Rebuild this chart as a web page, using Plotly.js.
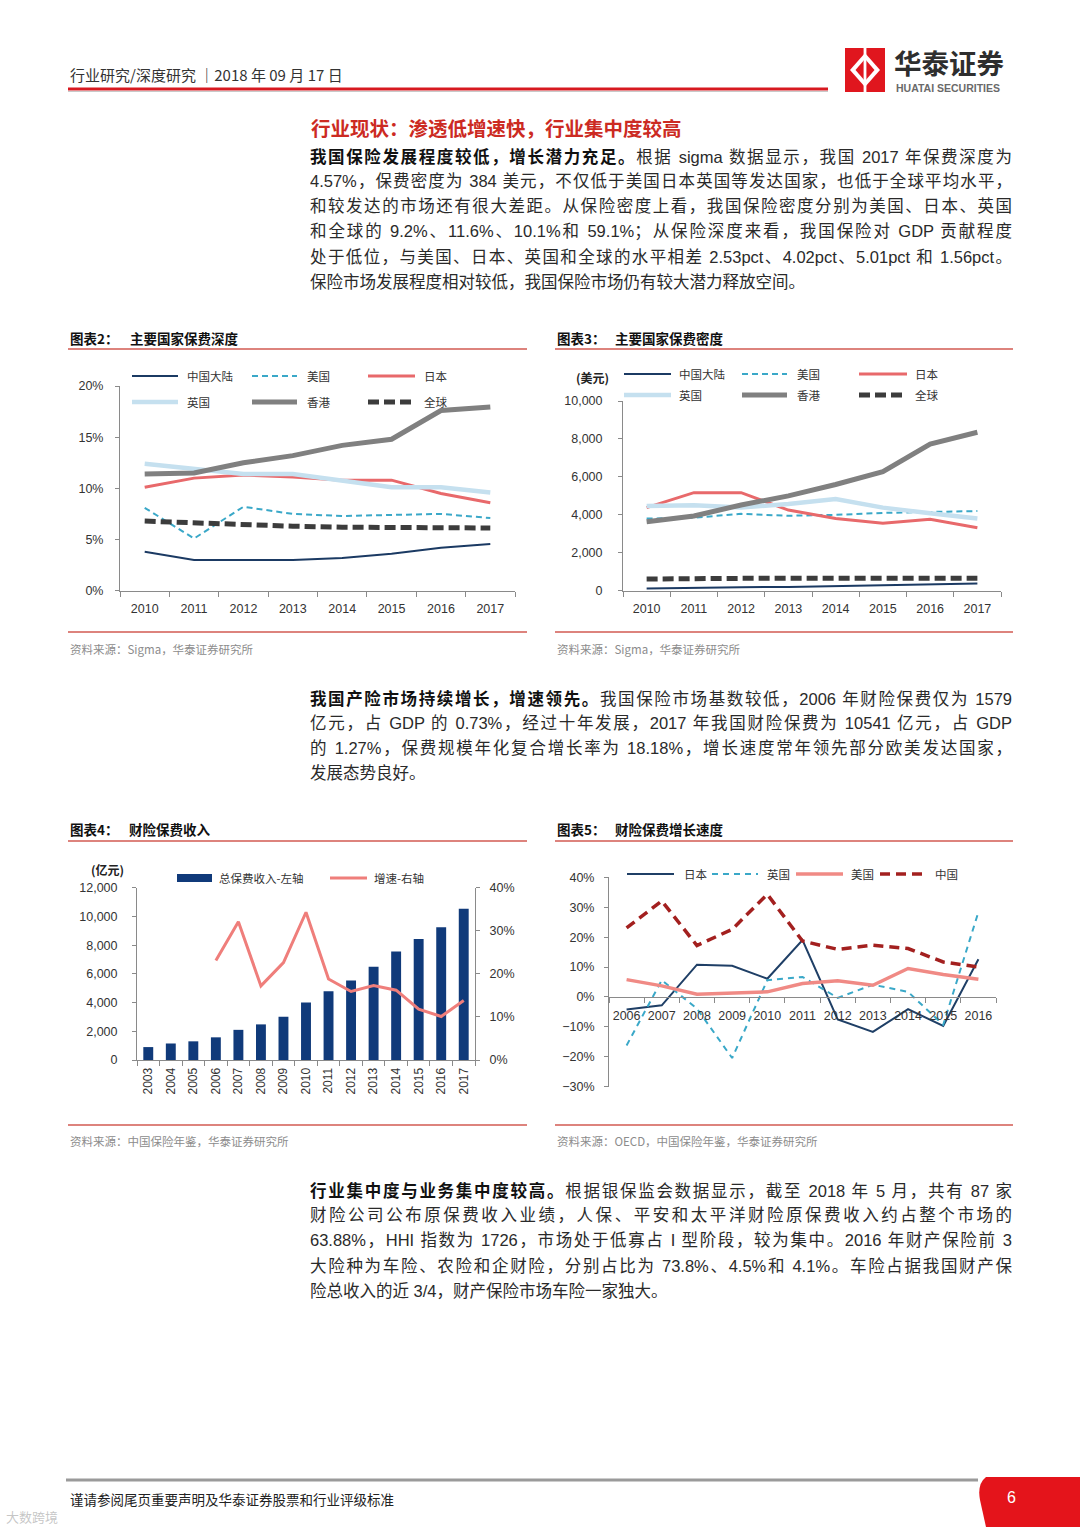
<!DOCTYPE html>
<html><head><meta charset="utf-8">
<script src="https://cdn.plot.ly/plotly-3.0.1.min.js"></script>
<style>
html,body{margin:0;padding:0;background:#fff;}
#page{position:relative;width:1080px;height:1527px;overflow:hidden;background:#fff;}
#plot{position:absolute;left:0;top:0;width:1080px;height:1527px;}
.ln{position:absolute;left:310px;width:702px;height:25px;line-height:25px;font-family:"Liberation Sans","Noto Sans CJK SC",sans-serif;font-size:16.5px;color:#2a2a2a;text-align:justify;text-align-last:justify;overflow:hidden;}
.ln.last{text-align-last:left;}
.ln b{font-family:"Noto Sans CJK SC",sans-serif;font-weight:700;color:#111;}
</style></head>
<body>
<div id="page"><div id="plot"></div></div>
<script>
// ---------- DATA ----------
const years10to17 = ['2010','2011','2012','2013','2014','2015','2016','2017'];
// 图表2 保费深度 (%)
const depthMainland = [3.8, 3.0, 3.0, 3.0, 3.2, 3.6, 4.2, 4.57];
const depthUS       = [8.1, 5.1, 8.2, 7.5, 7.3, 7.4, 7.5, 7.1];
const depthJapan    = [10.1, 11.0, 11.3, 11.1, 10.8, 10.8, 9.5, 8.6];
const depthUK       = [12.4, 11.9, 11.4, 11.4, 10.7, 10.1, 10.1, 9.6];
const depthHK       = [11.4, 11.5, 12.5, 13.2, 14.2, 14.8, 17.6, 17.95];
const depthWorld    = [6.8, 6.6, 6.5, 6.3, 6.2, 6.2, 6.25, 6.13];
// 图表3 保费密度 (美元)
const densMainland = [110, 160, 180, 200, 240, 280, 340, 384];
const densUS       = [3800, 3850, 4050, 3950, 4000, 4100, 4150, 4200];
const densJapan    = [4380, 5170, 5170, 4250, 3810, 3550, 3760, 3320];
const densUK       = [4460, 4500, 4380, 4570, 4830, 4380, 4080, 3810];
const densHK       = [3640, 3940, 4520, 5000, 5600, 6270, 7730, 8350];
const densWorld    = [615, 650, 650, 650, 650, 600, 615, 650];
// 图表4 财险保费收入 (亿元) 与增速 (%)
const years03to17 = ['2003','2004','2005','2006','2007','2008','2009','2010','2011','2012','2013','2014','2015','2016','2017'];
const premiumTotal = [900, 1150, 1300, 1579, 2100, 2480, 3020, 4010, 4790, 5540, 6490, 7550, 8430, 9250, 10541];
const premiumGrowth = [null, null, null, 23.1, 32.1, 17.2, 22.6, 34.3, 18.8, 15.9, 17.3, 16.2, 11.8, 10.1, 13.8];
// 图表5 财险保费增长速度 (%)
const years06to16 = ['2006','2007','2008','2009','2010','2011','2012','2013','2014','2015','2016'];
const growthJapan = [-4.2, -2.8, 10.8, 10.4, 6.1, 19.0, -7.5, -11.7, -4.1, -9.7, 12.6];
const growthUK    = [-16.2, 5.6, -3.9, -20.4, 5.6, 6.7, -0.3, 4.1, 1.7, -9.3, 28.4];
const growthUS    = [5.8, 3.7, 0.9, 1.3, 1.7, 4.5, 5.4, 3.9, 9.5, 7.5, 5.9];
const growthChina = [23.1, 32.1, 17.2, 22.6, 34.3, 18.7, 15.9, 17.3, 16.2, 11.7, 10.0];

// ---------- TEXT ----------
const para1 = [
 '<b>我国保险发展程度较低，增长潜力充足。</b>根据 sigma 数据显示，我国 2017 年保费深度为',
 '4.57%，保费密度为 384 美元，不仅低于美国日本英国等发达国家，也低于全球平均水平，',
 '和较发达的市场还有很大差距。从保险密度上看，我国保险密度分别为美国、日本、英国',
 '和全球的 9.2%、11.6%、10.1%和 59.1%；从保险深度来看，我国保险对 GDP 贡献程度',
 '处于低位，与美国、日本、英国和全球的水平相差 2.53pct、4.02pct、5.01pct 和 1.56pct。',
 '保险市场发展程度相对较低，我国保险市场仍有较大潜力释放空间。'];
const para1Y = [156, 181, 206, 231, 257, 282];
const para2 = [
 '<b>我国产险市场持续增长，增速领先。</b>我国保险市场基数较低，2006 年财险保费仅为 1579',
 '亿元，占 GDP 的 0.73%，经过十年发展，2017 年我国财险保费为 10541 亿元，占 GDP',
 '的 1.27%，保费规模年化复合增长率为 18.18%，增长速度常年领先部分欧美发达国家，',
 '发展态势良好。'];
const para2Y = [698, 723, 748, 773];
const para3 = [
 '<b>行业集中度与业务集中度较高。</b>根据银保监会数据显示，截至 2018 年 5 月，共有 87 家',
 '财险公司公布原保费收入业绩，人保、平安和太平洋财险原保费收入约占整个市场的',
 '63.88%，HHI 指数为 1726，市场处于低寡占 I 型阶段，较为集中。2016 年财产保险前 3',
 '大险种为车险、农险和企财险，分别占比为 73.8%、4.5%和 4.1%。车险占据我国财产保',
 '险总收入的近 3/4，财产保险市场车险一家独大。'];
const para3Y = [1190, 1215, 1240, 1266, 1291];

const page = document.getElementById('page');
function addPara(lines, ys){
  lines.forEach((t,i)=>{
    const d=document.createElement('div');
    d.className='ln'+(i===lines.length-1?' last':'');
    d.style.top=(ys[i]-12.5)+'px';
    d.innerHTML=t;
    page.appendChild(d);
  });
}
addPara(para1, para1Y); addPara(para2, para2Y); addPara(para3, para3Y);

// ---------- LAYOUT HELPERS ----------
const W=1080, H=1527;
const px = x => x/W;
const py = y => 1 - y/H;
const CJK = '"Noto Sans CJK SC", sans-serif';
const NUM = '"Liberation Sans", Arial, "Noto Sans CJK SC", sans-serif';
const AX = '#8a8a8a';

function ann(text, x, y, size, color, opts){
  opts = opts || {};
  return {text:text, x:px(x), y:py(y), xref:'paper', yref:'paper', showarrow:false,
    xanchor:opts.xa||'left', yanchor:opts.ya||'middle',
    font:{family:opts.family||CJK, size:size, color:color}};
}
function hline(x1,x2,y,color,width,dash){
  return {type:'line', xref:'paper', yref:'paper', x0:px(x1), x1:px(x2), y0:py(y), y1:py(y),
    line:{color:color, width:width, dash:dash||'solid'}};
}

// line styles
const sMain  = {color:'#1b3a63', width:2};
const sUS    = {color:'#3aa8c8', width:2, dash:'6px,4px'};
const sJP    = {color:'#e8696b', width:3};
const sUK    = {color:'#c5e0ef', width:4.5};
const sHK    = {color:'#808080', width:5};
const sWorld = {color:'#3c3c3c', width:5, dash:'11px,5px'};
const s5JP = {color:'#1f3f66', width:2};
const s5UK = {color:'#3aa8c8', width:2, dash:'6px,5px'};
const s5US = {color:'#f08a85', width:3.5};
const s5CN = {color:'#a3201f', width:3.5, dash:'10px,6px'};
const barColor = '#103a7a';
const sGrowth = {color:'#ef7e7b', width:3};

function line(x, y, xa, ya, style){
  return {type:'scatter', mode:'lines', x:x, y:y, xaxis:xa, yaxis:ya, line:style, hoverinfo:'skip', showlegend:false, connectgaps:false};
}

const traces = [
  line(years10to17, depthMainland, 'x', 'y', sMain),
  line(years10to17, depthUS, 'x', 'y', sUS),
  line(years10to17, depthJapan, 'x', 'y', sJP),
  line(years10to17, depthUK, 'x', 'y', sUK),
  line(years10to17, depthHK, 'x', 'y', sHK),
  line(years10to17, depthWorld, 'x', 'y', sWorld),

  line(years10to17, densMainland, 'x2', 'y2', sMain),
  line(years10to17, densUS, 'x2', 'y2', sUS),
  line(years10to17, densJapan, 'x2', 'y2', sJP),
  line(years10to17, densUK, 'x2', 'y2', sUK),
  line(years10to17, densHK, 'x2', 'y2', sHK),
  line(years10to17, densWorld, 'x2', 'y2', sWorld),

  {type:'bar', x:years03to17, y:premiumTotal, xaxis:'x3', yaxis:'y3', marker:{color:barColor}, hoverinfo:'skip', showlegend:false},
  line(years03to17, premiumGrowth, 'x3', 'y4', sGrowth),

  line(years06to16, growthJapan, 'x5', 'y5', s5JP),
  line(years06to16, growthUK, 'x5', 'y5', s5UK),
  line(years06to16, growthUS, 'x5', 'y5', s5US),
  line(years06to16, growthChina, 'x5', 'y5', s5CN)
];

const tickFont = {family:NUM, size:12.5, color:'#333'};
function catAxis(x1, x2, anchor, n, extra){
  return Object.assign({type:'category', domain:[px(x1), px(x2)], anchor:anchor, range:[-0.5, n-0.5],
    showline:true, linecolor:AX, linewidth:1, showgrid:false, zeroline:false,
    ticks:'outside', ticklen:5, tickcolor:AX, tickson:'boundaries', tickangle:0,
    tickfont:tickFont, ticklabelstandoff:6, fixedrange:true, automargin:false}, extra||{});
}
function valAxis(ytop, ybot, anchor, extra){
  return Object.assign({domain:[py(ybot), py(ytop)], anchor:anchor,
    showline:true, linecolor:AX, linewidth:1, showgrid:false, zeroline:false,
    ticks:'outside', ticklen:4, tickcolor:AX, tickfont:tickFont, fixedrange:true, automargin:false}, extra||{});
}

const layout = {
  width:W, height:H, margin:{l:0,r:0,t:0,b:0}, paper_bgcolor:'#fff', plot_bgcolor:'rgba(0,0,0,0)',
  showlegend:false, bargap:0.56,
  xaxis:  catAxis(120, 515, 'y', years10to17.length),
  yaxis:  valAxis(386, 590.7, 'x', {range:[0,20], dtick:5, ticksuffix:'%', ticklabelstandoff:9}),
  xaxis2: catAxis(623, 1001, 'y2', years10to17.length),
  yaxis2: valAxis(401, 590.7, 'x2', {range:[0,10000], dtick:2000, tickformat:',d', ticklabelstandoff:13}),
  xaxis3: catAxis(137, 475, 'y3', years03to17.length, {tickangle:-90, ticklabelstandoff:2, tickfont:{family:NUM,size:12,color:'#333'}}),
  yaxis3: valAxis(887.7, 1060, 'x3', {range:[0,12000], dtick:2000, tickformat:',d', ticklabelstandoff:12, tickfont:{family:NUM,size:12.5,color:'#333'}}),
  yaxis4: {overlaying:'y3', side:'right', anchor:'x3', range:[0,40], dtick:10, ticksuffix:'%',
    showline:true, linecolor:AX, linewidth:1, showgrid:false, zeroline:false, ticks:'outside', ticklen:4, tickcolor:AX,
    tickfont:{family:NUM,size:12.5,color:'#333'}, ticklabelstandoff:7, fixedrange:true, automargin:false},
  xaxis5: catAxis(609, 996, 'free', years06to16.length, {position:py(996.7), ticklabelstandoff:7, tickangle:0}),
  yaxis5: valAxis(877.3, 1086.7, 'x5', {range:[-30,40], dtick:10, ticksuffix:'%', ticklabelstandoff:7}),
  shapes:[], annotations:[]
};

const S = layout.shapes, A = layout.annotations;

// ---------- HEADER ----------
A.push(ann('行业研究/深度研究 ｜2018 年 09 月 17 日', 68, 75, 15, '#333'));
S.push(hline(68, 828, 89, '#d71920', 3));
S.push(hline(68, 828, 91.5, '#c9c9c9', 1));
// logo mark
S.push({type:'rect', xref:'paper', yref:'paper', x0:px(845), x1:px(885), y0:py(92), y1:py(48), fillcolor:'#e0161e', line:{width:0}});
S.push({type:'path', xref:'paper', yref:'paper', path:`M ${px(865)} ${py(53)} L ${px(880)} ${py(70)} L ${px(865)} ${py(87)} L ${px(850)} ${py(70)} Z`, fillcolor:'#ffffff', line:{width:0}});
S.push({type:'path', xref:'paper', yref:'paper', path:`M ${px(865)} ${py(59)} L ${px(874.5)} ${py(70)} L ${px(865)} ${py(81)} L ${px(855.5)} ${py(70)} Z`, fillcolor:'#e0161e', line:{width:0}});
S.push({type:'rect', xref:'paper', yref:'paper', x0:px(863.6), x1:px(866.4), y0:py(92), y1:py(48), fillcolor:'#ffffff', line:{width:0}});
A.push(ann('<b>华泰证券</b>', 892, 62, 27.5, '#2e2e2e'));
A.push(ann('<b>HUATAI SECURITIES</b>', 894, 88.5, 10.5, '#6a6a6a', {family:NUM}));

// section title
A.push(ann('<b>行业现状：渗透低增速快，行业集中度较高</b>', 309, 128, 19.5, '#cc2a22'));

// ---------- CHART FRAMES ----------
const frameRed = '#d25a52';
function frame(x1, x2, yTitle, yTop, yBot, ySrc, num, title, titleX, src){
  A.push(ann('<b>图表' + num + '：</b>', x1, yTitle, 13.5, '#111'));
  A.push(ann('<b>' + title + '</b>', titleX, yTitle, 13.5, '#111'));
  S.push(hline(x1, x2, yTop, frameRed, 1.6));
  S.push(hline(x1, x2, yBot, frameRed, 1.6));
  A.push(ann(src, x1, ySrc, 11.5, '#8c8c8c'));
}
frame(68, 527, 338, 349, 632, 649, '2', '主要国家保费深度', 128, '资料来源：Sigma，华泰证券研究所');
frame(555, 1013, 338, 349, 632, 649, '3', '主要国家保费密度', 613, '资料来源：Sigma，华泰证券研究所');
frame(68, 527, 829, 841, 1125, 1141, '4', '财险保费收入', 127, '资料来源：中国保险年鉴，华泰证券研究所');
frame(555, 1013, 829, 841, 1125, 1141, '5', '财险保费增长速度', 613, '资料来源：OECD，中国保险年鉴，华泰证券研究所');

// ---------- CUSTOM LEGENDS ----------
function legLine(x1, x2, y, style, label, tx){
  S.push(hline(x1, x2, y, style.color, style.width, style.dash));
  A.push(ann(label, tx, y, 11.5, '#333'));
}
// chart 2
legLine(132,178,376,sMain,'中国大陆',185);
legLine(252,297,376,sUS,'美国',305);
legLine(368,415,376,sJP,'日本',422);
legLine(132,178,402,sUK,'英国',185);
legLine(252,297,402,sHK,'香港',305);
legLine(368,415,402,sWorld,'全球',422);
// chart 3
legLine(624,671,374,sMain,'中国大陆',677);
legLine(742,787,374,sUS,'美国',795);
legLine(859,907,374,sJP,'日本',913);
legLine(624,671,395,sUK,'英国',677);
legLine(742,787,395,sHK,'香港',795);
legLine(859,907,395,sWorld,'全球',913);
A.push(ann('<b>(美元)</b>', 592, 378, 12, '#222', {xa:'center'}));
// chart 4
S.push({type:'rect', xref:'paper', yref:'paper', x0:px(177), x1:px(212), y0:py(882), y1:py(874), fillcolor:barColor, line:{width:0}});
A.push(ann('总保费收入-左轴', 217, 878, 11.5, '#333'));
legLine(330,367,878,sGrowth,'增速-右轴',372);
A.push(ann('<b>(亿元)</b>', 107, 869, 12, '#222', {xa:'center'}));
// chart 5
legLine(627,674,874,s5JP,'日本',682);
legLine(712,758,874,s5UK,'英国',765);
legLine(796,843,874,s5US,'美国',849);
legLine(880,927,874,s5CN,'中国',933);

// ---------- FOOTER ----------
S.push(hline(66, 978, 1480, '#9a9a9a', 3));
S.push({type:'path', xref:'paper', yref:'paper',
  path:`M ${px(986)} ${py(1477)} L ${px(1080)} ${py(1477)} L ${px(1080)} ${py(1527)} L ${px(986)} ${py(1527)} L ${px(980)} ${py(1500)} Q ${px(977)} ${py(1484)} ${px(986)} ${py(1477)} Z`,
  fillcolor:'#e4141b', line:{width:0}});
A.push(ann('6', 1011, 1497, 16, '#ffffff', {xa:'center', family:NUM}));
A.push(ann('谨请参阅尾页重要声明及华泰证券股票和行业评级标准', 68, 1499, 13.5, '#222'));
A.push(ann('大数跨境', 4, 1516, 13, 'rgba(160,160,160,0.6)'));

Plotly.newPlot('plot', traces, layout, {staticPlot:true, displayModeBar:false});
</script>
</body></html>
